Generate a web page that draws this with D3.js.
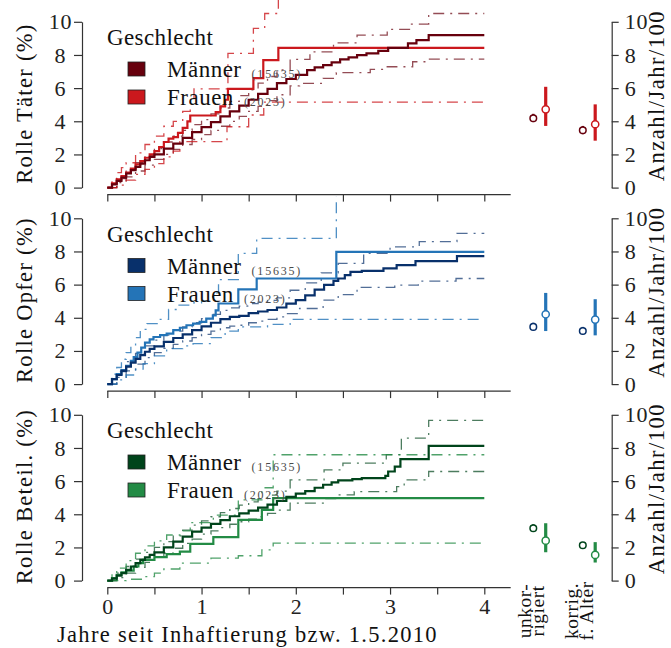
<!DOCTYPE html>
<html><head><meta charset="utf-8">
<script src="https://cdn.jsdelivr.net/npm/d3@7"></script>
<style>
html,body{margin:0;padding:0;background:#fff;}
svg{display:block;}
svg text{font-family:"Liberation Serif","Times New Roman",serif !important;}
</style></head><body>
<svg id="chart" width="671" height="648" font-family="Liberation Serif, serif"></svg>
<script>
// Cumulative incidence (%) by role and sex, as step points [years, percent]
const taeterMaenner = [[0,0],[0.05,0.2],[0.1,0.4],[0.15,0.6],[0.2,0.85],[0.25,1.05],[0.3,1.25],[0.35,1.45],[0.4,1.65],[0.45,1.85],[0.5,2.0],[0.6,2.35],[0.7,2.65],[0.8,3.0],[0.9,3.35],[1.0,3.65],[1.1,3.95],[1.2,4.3],[1.3,4.6],[1.4,4.95],[1.5,5.3],[1.6,5.65],[1.7,5.95],[1.8,6.3],[1.9,6.55],[2.0,6.8],[2.12,7.09],[2.2,7.25],[2.29,7.39],[2.38,7.55],[2.47,7.73],[2.56,7.85],[2.65,7.99],[2.75,8.1],[2.875,8.25],[2.98,8.43],[3.19,8.7],[3.28,8.9],[3.41,9.2],[4.0,9.2]];
const taeterMaennerOben = [[0,0],[0.1,0.55],[0.2,1.05],[0.3,1.5],[0.4,1.95],[0.5,2.35],[0.6,2.75],[0.7,3.1],[0.8,3.45],[0.9,3.8],[1.0,4.1],[1.1,4.45],[1.2,4.8],[1.3,5.2],[1.4,5.55],[1.5,5.9],[1.6,6.3],[1.7,6.7],[1.8,7.1],[1.94,7.73],[2.15,8.19],[2.4,8.73],[2.65,9.2],[2.97,9.54],[3.22,9.86],[3.41,10.5],[4.0,10.5]];
const taeterMaennerUnten = [[0,0],[0.1,0.3],[0.2,0.65],[0.3,1.0],[0.4,1.35],[0.5,1.7],[0.6,2.0],[0.7,2.3],[0.8,2.6],[0.9,2.9],[1.0,3.2],[1.1,3.45],[1.2,3.7],[1.3,4.0],[1.4,4.3],[1.5,4.6],[1.6,4.9],[1.7,5.25],[1.8,5.6],[1.94,6.13],[2.04,6.29],[2.29,6.59],[2.43,6.93],[2.79,7.13],[2.97,7.29],[3.24,7.59],[3.41,7.75],[4.0,7.75]];
const taeterFrauen = [[0,0],[0.05,0.25],[0.1,0.5],[0.15,0.7],[0.2,0.9],[0.25,1.15],[0.3,1.4],[0.35,1.6],[0.4,1.8],[0.45,2.0],[0.5,2.2],[0.55,2.45],[0.6,2.75],[0.65,2.95],[0.7,3.05],[0.75,3.3],[0.8,3.6],[0.85,4.0],[0.88,4.35],[1.15,4.55],[1.2,4.9],[1.25,5.3],[1.28,5.95],[1.55,6.6],[1.655,7.69],[1.815,8.43],[4.0,8.43]];
const taeterFrauenOben = [[0,0],[0.05,0.5],[0.1,0.9],[0.15,1.2],[0.2,1.5],[0.3,2.1],[0.4,2.6],[0.5,3.1],[0.6,3.7],[0.7,4.0],[0.8,4.6],[0.88,5.3],[0.92,5.95],[1.28,8.1],[1.55,9.6],[1.67,10.5],[1.815,12],[4.0,12]];
const taeterFrauenUnten = [[0,0],[0.1,0.15],[0.2,0.45],[0.3,0.8],[0.4,1.1],[0.5,1.45],[0.6,1.85],[0.7,2.2],[0.77,2.77],[1.27,3.67],[1.5,4.38],[1.66,5.15],[4.0,5.15]];

const opferMaenner = [[0,0],[0.05,0.3],[0.1,0.55],[0.15,0.8],[0.2,1.05],[0.25,1.3],[0.3,1.52],[0.35,1.75],[0.4,1.95],[0.45,2.12],[0.5,2.28],[0.6,2.55],[0.7,2.78],[0.8,3.0],[0.9,3.25],[1.0,3.48],[1.1,3.7],[1.2,3.92],[1.3,4.05],[1.4,4.12],[1.5,4.28],[1.6,4.38],[1.7,4.47],[1.8,4.62],[1.9,4.85],[2.0,5.06],[2.1,5.35],[2.2,5.7],[2.3,5.98],[2.4,6.22],[2.45,6.37],[2.52,6.57],[2.58,6.77],[2.7,6.83],[2.93,6.98],[3.07,7.18],[3.27,7.42],[3.71,7.72],[4.0,7.72]];
const opferMaennerOben = [[0,0],[0.1,0.75],[0.2,1.35],[0.3,1.85],[0.4,2.3],[0.5,2.65],[0.6,2.95],[0.7,3.2],[0.8,3.45],[0.9,3.7],[1.0,3.95],[1.1,4.2],[1.2,4.45],[1.3,4.6],[1.4,4.7],[1.5,4.85],[1.6,4.95],[1.7,5.05],[1.8,5.2],[1.94,5.66],[2.1,6.1],[2.27,6.71],[2.45,7.28],[2.72,7.88],[3.0,8.28],[3.31,8.59],[3.71,9.09],[4.0,9.09]];
const opferMaennerUnten = [[0,0],[0.1,0.4],[0.2,0.8],[0.3,1.2],[0.4,1.6],[0.5,1.9],[0.6,2.15],[0.7,2.4],[0.8,2.6],[0.9,2.8],[1.0,3.0],[1.1,3.2],[1.2,3.4],[1.3,3.5],[1.4,3.55],[1.5,3.7],[1.6,3.8],[1.7,3.9],[1.8,4.05],[1.9,4.25],[2.04,4.56],[2.29,5.06],[2.45,5.4],[2.65,5.83],[3.05,5.97],[3.3,6.21],[3.7,6.37],[4.0,6.37]];
const opferFrauen = [[0,0],[0.05,0.3],[0.1,0.6],[0.15,0.85],[0.2,1.1],[0.25,1.4],[0.28,1.63],[0.32,1.9],[0.36,2.2],[0.4,2.5],[0.45,2.7],[0.49,2.84],[0.56,2.95],[0.63,3.05],[0.7,3.25],[0.77,3.4],[0.84,3.55],[0.91,3.65],[0.98,3.75],[1.05,3.95],[1.12,4.15],[1.15,4.45],[1.18,4.86],[1.39,5.71],[1.585,6.37],[2.43,7.98],[4.0,7.98]];
const opferFrauenOben = [[0,0],[0.05,0.6],[0.1,1.0],[0.15,1.5],[0.2,1.9],[0.25,2.3],[0.3,2.8],[0.35,3.3],[0.42,3.65],[0.55,3.9],[0.65,4.5],[0.75,4.76],[0.9,4.9],[1.0,5.0],[1.12,5.5],[1.18,6.3],[1.39,7.88],[1.585,8.79],[2.43,12],[4.0,12]];
const opferFrauenUnten = [[0,0],[0.1,0.25],[0.2,0.55],[0.3,0.9],[0.38,1.23],[0.5,1.7],[0.63,2.14],[0.8,2.3],[0.91,2.44],[1.1,2.8],[1.25,3.2],[1.39,3.45],[1.7,3.6],[1.94,3.9],[4.0,3.9]];

const beteilMaenner = [[0,0],[0.05,0.12],[0.1,0.3],[0.15,0.45],[0.2,0.65],[0.25,0.85],[0.3,1.05],[0.35,1.25],[0.4,1.4],[0.45,1.55],[0.5,1.7],[0.6,2.0],[0.7,2.35],[0.8,2.65],[0.9,2.95],[1.0,3.2],[1.1,3.42],[1.2,3.65],[1.3,3.88],[1.4,4.05],[1.5,4.22],[1.6,4.4],[1.7,4.58],[1.8,4.8],[1.9,5.05],[2.0,5.25],[2.1,5.4],[2.2,5.6],[2.29,5.78],[2.38,5.92],[2.45,6.04],[2.6,6.12],[2.7,6.18],[2.95,6.32],[2.98,6.58],[3.05,6.88],[3.11,7.33],[3.41,8.13],[4.0,8.13]];
const beteilMaennerOben = [[0,0],[0.1,0.45],[0.2,0.85],[0.3,1.3],[0.4,1.7],[0.5,2.0],[0.6,2.35],[0.7,2.7],[0.8,3.05],[0.9,3.35],[1.0,3.6],[1.1,3.85],[1.2,4.1],[1.3,4.35],[1.4,4.55],[1.5,4.75],[1.6,4.95],[1.7,5.15],[1.8,5.4],[1.94,6.08],[2.3,6.68],[2.5,7.08],[2.96,7.6],[3.12,8.59],[3.41,9.66],[4.0,9.66]];
const beteilMaennerUnten = [[0,0],[0.1,0.18],[0.2,0.45],[0.3,0.8],[0.4,1.1],[0.5,1.4],[0.6,1.65],[0.7,1.95],[0.8,2.25],[0.9,2.5],[1.0,2.8],[1.1,3.0],[1.2,3.2],[1.3,3.4],[1.4,3.55],[1.5,3.7],[1.6,3.85],[1.7,4.05],[1.8,4.25],[1.94,4.67],[2.3,4.95],[2.45,5.17],[2.62,5.37],[3.07,5.67],[3.15,6.08],[3.41,6.58],[4.0,6.58]];
const beteilFrauen = [[0,0],[0.05,0.15],[0.1,0.35],[0.15,0.5],[0.2,0.6],[0.28,0.85],[0.33,1.05],[0.38,1.25],[0.5,1.41],[0.63,1.6],[0.77,1.75],[0.88,2.21],[1.125,2.62],[1.39,3.66],[1.64,4.27],[1.76,4.97],[4.0,4.97]];
const beteilFrauenOben = [[0,0],[0.05,0.4],[0.1,0.75],[0.2,1.2],[0.3,1.65],[0.4,2.1],[0.5,2.4],[0.63,2.75],[0.77,3.0],[0.88,3.5],[1.125,3.95],[1.39,4.87],[1.64,5.6],[1.76,7.59],[4.0,7.59]];
const beteilFrauenUnten = [[0,0],[0.2,0.08],[0.38,0.24],[0.5,0.45],[0.6,0.7],[0.77,1.05],[1.1,1.35],[1.39,1.5],[1.64,1.85],[1.76,2.26],[4.0,2.26]];

// Rates per 100 person-years: [estimate, lower, upper] for each adjustment
const rateGruppen = ["unkorrigiert", "korrigiert"];
const taeterRateMaenner = [[4.18,3.95,4.45],[3.46,3.22,3.72]];
const taeterRateFrauen  = [[4.72,3.72,6.08],[3.82,2.83,5.02]];
const opferRateMaenner  = [[3.45,3.25,3.70],[3.20,3.00,3.45]];
const opferRateFrauen   = [[4.21,3.20,5.50],[3.89,2.94,5.12]];
const beteilRateMaenner = [[3.16,2.95,3.40],[2.13,1.95,2.32]];
const beteilRateFrauen  = [[2.41,1.71,3.46],[1.55,1.09,2.32]];

const yTicks = [0, 2, 4, 6, 8, 10];
const xTicks = [0, 0.5, 1, 1.5, 2, 2.5, 3, 3.5, 4];
const xLabelTicks = [0, 1, 2, 3, 4];
const legendTitel = "Geschlecht";
const geschlechter = ["Männer", "Frauen"];
const fallzahlen = ["(15635)", "(2023)"];

const panels = [
  {label: "Rolle Täter (%)", farben: ["#67000d", "#cb181d"],
   kurven: [[taeterMaenner, taeterMaennerUnten, taeterMaennerOben], [taeterFrauen, taeterFrauenUnten, taeterFrauenOben]],
   raten: [taeterRateMaenner, taeterRateFrauen]},
  {label: "Rolle Opfer (%)", farben: ["#08306b", "#2474b7"],
   kurven: [[opferMaenner, opferMaennerUnten, opferMaennerOben], [opferFrauen, opferFrauenUnten, opferFrauenOben]],
   raten: [opferRateMaenner, opferRateFrauen]},
  {label: "Rolle Beteil. (%)", farben: ["#00441b", "#238b45"],
   kurven: [[beteilMaenner, beteilMaennerUnten, beteilMaennerOben], [beteilFrauen, beteilFrauenUnten, beteilFrauenOben]],
   raten: [beteilRateMaenner, beteilRateFrauen]}
];

const FONT = "Liberation Serif, serif";
const svg = d3.select("#chart");
const axisColor = "#333";
const x = d3.scaleLinear().domain([0, 4]).range([107.3, 484.3]);
const gx = d3.scalePoint().domain(rateGruppen).range([539.5, 589]);
const sexOffset = [-6.2, 6.2];
const panelStep = 196.5, firstBase = 187.6, unitPx = 16.58;

function txt(sel, size) {
  return sel.attr("font-family", FONT).attr("font-size", size);
}

panels.forEach((p, i) => {
  const base = firstBase + i * panelStep;
  const y = d3.scaleLinear().domain([0, 10]).range([base, base - 10 * unitPx]);
  const g = svg.append("g");

  // clip region: the axes area runs up to about 11.3 %
  const clipId = "clip" + i;
  svg.append("clipPath").attr("id", clipId).append("rect")
    .attr("x", x(-0.1)).attr("width", x(4.3) - x(-0.1))
    .attr("y", y(11.32)).attr("height", y(-0.2) - y(11.32));

  // left axis
  const ya = g.append("g").attr("transform", "translate(82,0)")
    .call(d3.axisLeft(y).tickValues(yTicks).tickSize(8).tickSizeOuter(0));
  ya.attr("font-family", FONT);
  ya.selectAll("path,line").attr("stroke", axisColor).attr("stroke-width", 1.2);
  txt(ya.selectAll("text"), 22).attr("text-anchor", "middle").attr("x", -21.5)
    .attr("letter-spacing", 0.8).attr("fill", "#222");

  // right axis for the rates
  const yr = g.append("g").attr("transform", "translate(611.7,0)")
    .call(d3.axisRight(y).tickValues(yTicks).tickSize(7).tickPadding(6).tickSizeOuter(0));
  yr.attr("font-family", FONT);
  yr.selectAll("path,line").attr("stroke", axisColor).attr("stroke-width", 1.2);
  txt(yr.selectAll("text"), 22).attr("letter-spacing", 0.8).attr("fill", "#222");

  // bottom axis
  const xa = g.append("g").attr("transform", `translate(0,${base + 7})`)
    .call(d3.axisBottom(x).tickValues(xTicks).tickSize(7).tickPadding(3.5)
      .tickFormat(d => (i === 2 && xLabelTicks.includes(d)) ? d3.format("d")(d) : ""));
  xa.attr("font-family", FONT);
  xa.select(".domain").remove();
  xa.append("line").attr("x1", x(0)).attr("x2", x(4.28)).attr("stroke", axisColor).attr("stroke-width", 1.2);
  xa.selectAll("line").attr("stroke", axisColor).attr("stroke-width", 1.2);
  txt(xa.selectAll("text"), 22).attr("fill", "#222");

  // axis titles
  txt(g.append("text"), 22.5).attr("transform", `translate(32,${base - 84}) rotate(-90)`)
    .attr("text-anchor", "middle").attr("letter-spacing", 1.3).attr("fill", "#111").text(p.label);
  txt(g.append("text"), 22.5).attr("transform", `translate(664,${base - 92}) rotate(-90)`)
    .attr("text-anchor", "middle").attr("letter-spacing", 1.5).attr("fill", "#111").text("Anzahl/Jahr/100");

  // step curves with confidence bands
  const line = d3.line().x(d => x(d[0])).y(d => y(d[1])).curve(d3.curveStepAfter);
  const plot = g.append("g").attr("clip-path", `url(#${clipId})`);
  [0, 1].forEach(s => {
    const [est, lo, hi] = p.kurven[s];
    [lo, hi].forEach(ci => {
      plot.append("path").datum(ci).attr("d", line).attr("fill", "none")
        .attr("stroke", p.farben[s]).attr("stroke-opacity", s === 0 ? 0.7 : 0.8)
        .attr("stroke-width", 1.3).attr("stroke-dasharray", "11,6,2,6");
    });
  });
  [1, 0].forEach(s => {
    plot.append("path").datum(p.kurven[s][0]).attr("d", line).attr("fill", "none")
      .attr("stroke", p.farben[s]).attr("stroke-width", 2.2);
  });

  // legend
  const lg = g.append("g");
  txt(lg.append("text"), 23).attr("x", 107).attr("y", base - 142.6).attr("letter-spacing", 0.4)
    .attr("fill", "#111").text(legendTitel);
  geschlechter.forEach((name, s) => {
    const rowY = base - 125.6 + s * 28;
    lg.append("rect").attr("x", 128).attr("y", rowY).attr("width", 17).attr("height", 14)
      .attr("fill", p.farben[s]).attr("stroke", "#222").attr("stroke-width", 0.8);
    const t = txt(lg.append("text"), 23).attr("x", 167).attr("y", rowY + 15).attr("letter-spacing", 0.5)
      .attr("fill", "#111").text(name);
    const w = t.node().getComputedTextLength();
    txt(lg.append("text"), 12).attr("x", 167 + w + 10).attr("y", rowY + 16)
      .attr("letter-spacing", 1.8).attr("fill", "#4a4a4a").text(fallzahlen[s]);
  });

  // rates with intervals
  [0, 1].forEach(s => {
    p.raten[s].forEach((r, k) => {
      const cx = gx(rateGruppen[k]) + sexOffset[s];
      g.append("line").attr("x1", cx).attr("x2", cx).attr("y1", y(r[1])).attr("y2", y(r[2]))
        .attr("stroke", p.farben[s]).attr("stroke-width", s === 0 ? 2.4 : 3.2);
      g.append("circle").attr("cx", cx).attr("cy", y(r[0])).attr("r", s === 0 ? 3.3 : 3.6)
        .attr("fill", "#fff").attr("stroke", p.farben[s]).attr("stroke-width", 1.5);
    });
  });
});

// x axis title
txt(svg.append("text"), 22.5).attr("x", 57).attr("y", 642).attr("fill", "#111")
  .attr("letter-spacing", 1.3)
  .text("Jahre seit Inhaftierung bzw. 1.5.2010");

// group labels under the rates
const gruppenText = [["unkor-", "rigiert"], ["korrig.", "f. Alter"]];
const gruppenBase = [[531, 544], [578, 593]];
gruppenText.forEach((zeilen, k) => {
  zeilen.forEach((z, j) => {
    txt(svg.append("text"), 19.5).attr("transform", `translate(${gruppenBase[k][j]},611) rotate(-90)`)
      .attr("text-anchor", "middle").attr("letter-spacing", 0.5).attr("fill", "#111").text(z);
  });
});
</script>
</body></html>
